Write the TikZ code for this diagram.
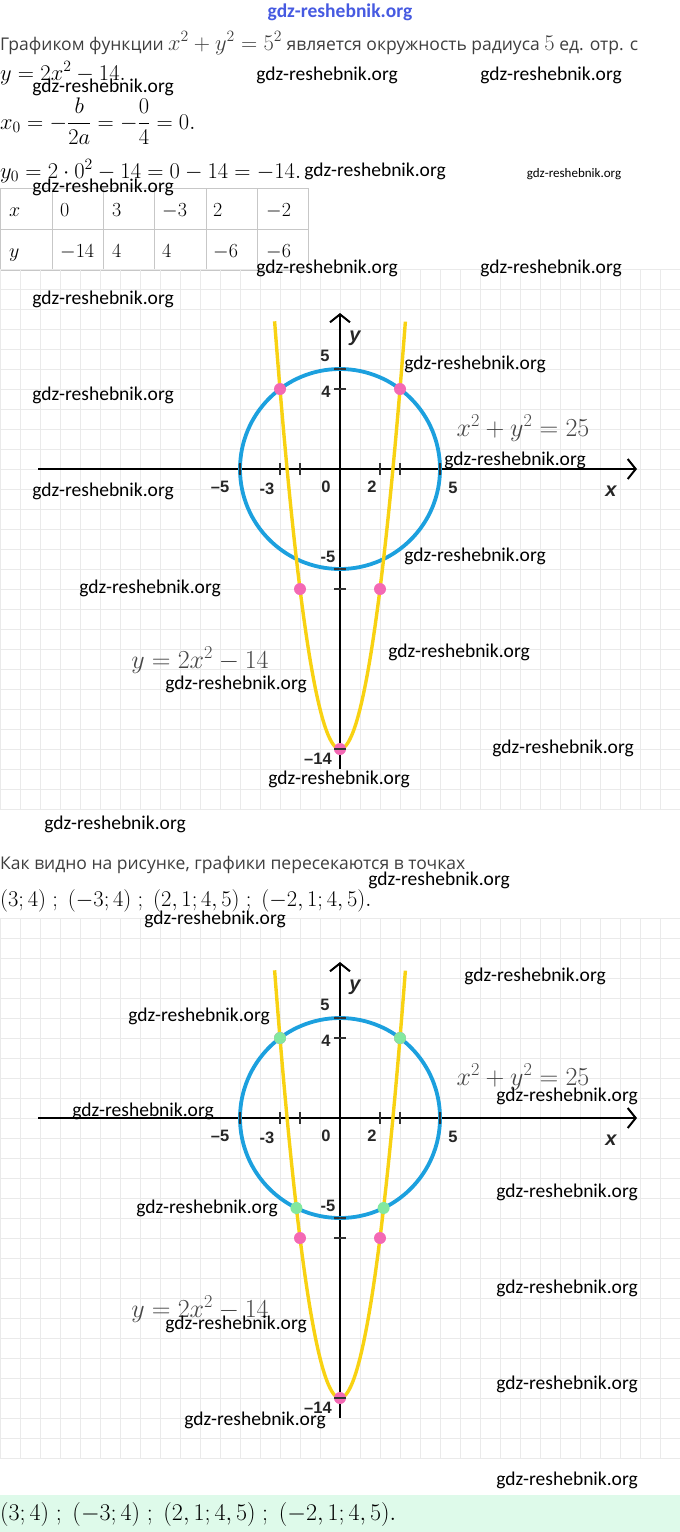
\RequirePackage{fix-cm}
\documentclass[tikz,border=0pt]{standalone}
\usepackage[no-math]{fontspec}
\usepackage{amsmath}
\usetikzlibrary{arrows.meta}
\newfontfamily\rufont{Open Sans}
\newfontfamily\wmfont{Carlito}
\newfontfamily\axfont{Liberation Sans}
\newcommand{\rumath}[1]{{\fontsize{22.5}{26}\selectfont$#1$}}
\definecolor{circblue}{RGB}{28, 160, 222}
\definecolor{parabyellow}{RGB}{248, 210, 18}
\definecolor{dotpink}{RGB}{243, 105, 180}
\definecolor{dotgreen}{RGB}{130, 232, 160}
\definecolor{gridgray}{RGB}{234, 234, 234}
\definecolor{textgray}{RGB}{62, 62, 62}
\definecolor{labelgray}{RGB}{70, 70, 70}
\definecolor{markblue}{RGB}{70, 90, 225}
\definecolor{answergreen}{RGB}{222, 250, 234}
\begin{document}
\begin{tikzpicture}[x=1pt, y=-1pt,
  ruline/.style={anchor=base west, inner sep=0pt, text=textgray, font=\rufont\fontsize{17.5}{20}\selectfont},
  mathline/.style={anchor=base west, inner sep=0pt, font=\fontsize{22.5}{26}\selectfont},
  cell/.style={anchor=base west, inner sep=0pt, font=\fontsize{20}{24}\selectfont},
  wmark/.style={inner sep=0pt, font=\wmfont\fontsize{19.5}{22}\selectfont},
  axnum/.style={inner sep=0pt, text=black!85, font=\axfont\bfseries\fontsize{16.5}{18}\selectfont},
  axname/.style={inner sep=0pt, text=black!85, font=\axfont\bfseries\itshape\fontsize{20}{22}\selectfont},
  eqlabel/.style={inner sep=0pt, text=labelgray, font=\fontsize{26}{30}\selectfont},
  gridline/.style={draw=gridgray, line width=1pt},
  tableline/.style={draw=gridgray!85!black, line width=0.8pt},
  axisline/.style={line width=2.2pt, -{Straight Barb[length=8pt, width=20pt, line width=2pt]}},
  tickmark/.style={line width=2.4pt, draw=black!80}
]
  \useasboundingbox (0,0) rectangle (680,1532);

  \node[inner sep=0pt, text=markblue, font=\wmfont\bfseries\fontsize{19.5}{22}\selectfont] (topmark) at (340,12) {gdz-reshebnik.org};

  \node[ruline] (line1) at (0,50) {Графиком функции \rumath{x^2+y^2=5^2} является окружность радиуса \rumath{5} ед. отр. с};
  \node[mathline] (line2) at (0,80) {$y=2x^2-14.$};
  \node[mathline] (line3) at (0,129) {$x_0=-\dfrac{b}{2a}=-\dfrac{0}{4}=0.$};
  \node[mathline] (line4) at (0,178) {$y_0=2\cdot 0^2-14=0-14=-14.$};

  \foreach \cx in {0,52,103,154,206,257,308}
    \draw[tableline] (\cx,188) -- (\cx,270);
  \foreach \cy in {188,229,270}
    \draw[tableline] (0,\cy) -- (308,\cy);
  \foreach \cx/\txt [count=\i] in {9/x, 60/0, 112/3, 162/-3, 213/2, 266/-2}
    \node[cell] (xcell-\i) at (\cx,216) {$\txt$};
  \foreach \cx/\txt [count=\i] in {9/y, 60/-14, 112/4, 162/4, 213/-6, 266/-6}
    \node[cell] (ycell-\i) at (\cx,257) {$\txt$};

  \foreach \gy/\gtop [count=\g] in {469/269, 1118/918}{
    \foreach \gx in {0,20,...,680}
      \draw[gridline] (\gx,\gtop) -- (\gx,{\gtop+540});
    \foreach \k in {0,...,27}
      \draw[gridline] (0,{\gtop+20*\k}) -- (680,{\gtop+20*\k});
    \begin{scope}[shift={(340,\gy)}, x=20pt, y=20pt]
      \draw[axisline] (-15.1,0) -- (14.85,0);
      \draw[axisline] (0,-15) -- (0,7.8);
      \draw[circblue, line width=3.8pt] (0,0) circle[radius=5];
      \draw[parabyellow, line width=3.4pt, domain=-3.27:3.27, samples=120, smooth] plot (\x,{2*\x*\x-14});
      \foreach \px/\py in {-3/4, 3/4, -2/-6, 2/-6, 0/-14}
        \fill[dotpink] (\px,\py) circle[radius=6pt];
      \ifnum\g=2
        \foreach \px/\py in {-3/4, 3/4, -2.18/-4.5, 2.18/-4.5}
          \fill[dotgreen] (\px,\py) circle[radius=6pt];
      \fi
      \foreach \t in {-5,-3,-2,2,3,5}
        \draw[tickmark] (\t,-0.3) -- (\t,0.3);
      \foreach \t in {5,4,-5,-6,-14}
        \draw[tickmark] (-0.3,\t) -- (0.3,\t);
      \node[axname] (ylab-\g) at (0.75,6.55) {y};
      \node[axnum] (yfive-\g) at (-0.75,5.65) {5};
      \node[axnum] (yfour-\g) at (-0.7,3.85) {4};
      \node[axnum] (xmfive-\g) at (-6,-0.9) {–5};
      \node[axnum] (xmthree-\g) at (-3.65,-1) {-3};
      \node[axnum] (zero-\g) at (-0.7,-0.9) {0};
      \node[axnum] (xtwo-\g) at (1.6,-0.9) {2};
      \node[axnum] (xfive-\g) at (5.65,-0.95) {5};
      \node[axname] (xlab-\g) at (13.55,-1.1) {x};
      \node[axnum] (ymfive-\g) at (-0.6,-4.4) {-5};
      \node[axnum] (yvert-\g) at (-1.1,-14.5) {–14};
      \node[eqlabel] (circeq-\g) at (9.15,2.05) {$x^2+y^2=25$};
      \node[eqlabel] (paraeq-\g) at (-7,-9.55) {$y=2x^2-14$};
    \end{scope}
  }

  \node[ruline] (line5) at (0,869) {Как видно на рисунке, графики пересекаются в точках};
  \node[mathline] (line6) at (0,906) {$(3;4)\;;\;(-3;4)\;;\;(2,1;4,5)\;;\;(-2,1;4,5).$};

  \fill[answergreen] (0,1495) rectangle (680,1532);
  \node[mathline, font=\fontsize{24}{28}\selectfont] (answer) at (0,1520) {$(3;4)\;;\;(-3;4)\;;\;(2,1;4,5)\;;\;(-2,1;4,5).$};

  \foreach \wx/\wy [count=\i] in {103/87, 327/75, 551/75, 375/171, 103/187, 327/268, 551/268,
      103/299, 103/395, 475/364, 103/491, 515/460, 475/556, 150/588, 459/652, 236/684,
      339/779, 563/748, 115/824, 439/880, 215/919, 535/976, 199/1016, 143/1111, 567/1096,
      567/1192, 207/1208, 567/1288, 236/1324, 567/1384, 255/1420, 567/1480}
    \node[wmark] (wm-\i) at (\wx,\wy) {gdz-reshebnik.org};
  \node[wmark, font=\wmfont\fontsize{13}{15}\selectfont] (wmsmall) at (574,174) {gdz-reshebnik.org};
\end{tikzpicture}
\end{document}
